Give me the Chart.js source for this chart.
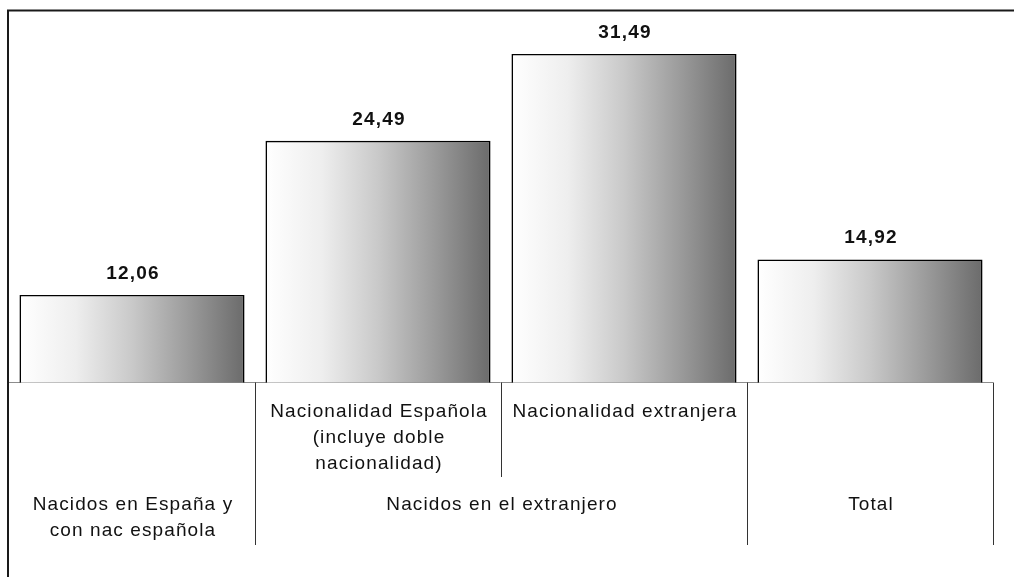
<!DOCTYPE html>
<html lang="es">
<head>
<meta charset="UTF-8">
<title>Nacidos</title>
<style>
  html, body { margin: 0; padding: 0; background: #fff; }
  #wrap { width: 1014px; height: 577px; position: relative; }
</style>
</head>
<body>
<div id="wrap"><canvas id="myChart"></canvas></div>

<script src="https://cdn.jsdelivr.net/npm/chart.js@4.4.0/dist/chart.umd.min.js"></script>
<script>
// data
const categories = ['Nacidos en España y con nac española', 'Nacionalidad Española', 'Nacionalidad extranjera', 'Total'];
const values = [12.06, 24.49, 31.49, 14.92];
const valueLabels = ['12,06', '24,49', '31,49', '14,92'];
// first label row (only for the two "extranjero" bars)
const subLabels = [[], ['Nacionalidad Española', '(incluye doble', 'nacionalidad)'], ['Nacionalidad extranjera'], []];
// second label row, groups of bars
const groupNames = [['Nacidos en España y', 'con nac española'], ['Nacidos en el extranjero'], ['Total']];
const groupStart = [0, 1, 3];
const groupEnd = [0, 2, 3];

const BAR_PCT = 0.915;
const FONT = '"Liberation Sans", Arial, sans-serif';

function barGradient(context) {
  const chart = context.chart;
  const xs = chart.scales.x;
  if (!xs || !chart.chartArea) return '#bbbbbb';
  const step = xs.width / categories.length;
  const cx = xs.getPixelForValue(context.dataIndex);
  const w = step * BAR_PCT;
  const g = chart.ctx.createLinearGradient(cx - w / 2, 0, cx + w / 2, 0);
  g.addColorStop(0, '#ffffff');
  g.addColorStop(0.25, '#eeeeee');
  g.addColorStop(0.5, '#c9c9c9');
  g.addColorStop(0.75, '#9b9b9b');
  g.addColorStop(1, '#6b6b6b');
  return g;
}

const tablePlugin = {
  id: 'tableAxis',
  beforeDatasetsDraw(chart) {
    const ctx = chart.ctx;
    const area = chart.chartArea;
    const xs = chart.scales.x;
    const base = area.bottom;
    const step = xs.width / categories.length;
    ctx.save();
    ctx.strokeStyle = '#8c8c8c';
    ctx.lineWidth = 1;
    ctx.beginPath();
    ctx.moveTo(area.left - 1, base);
    ctx.lineTo(xs.getPixelForValue(categories.length - 1) + step / 2, base);
    ctx.stroke();
    ctx.restore();
  },
  afterDraw(chart) {
    const ctx = chart.ctx;
    const area = chart.chartArea;
    const xs = chart.scales.x;
    const base = area.bottom;
    const step = xs.width / categories.length;
    ctx.save();

    // frame (left + top)
    ctx.strokeStyle = '#1a1a1a';
    ctx.lineWidth = 2;
    ctx.beginPath();
    ctx.moveTo(area.left - 1, chart.height);
    ctx.lineTo(area.left - 1, area.top);
    ctx.lineTo(chart.width, area.top);
    ctx.stroke();

    // dividers under the baseline
    ctx.lineWidth = 1;
    ctx.strokeStyle = '#333333';
    for (let i = 0; i < categories.length; i++) {
      const x = Math.round(xs.getPixelForValue(i) + step / 2) + 0.5;
      // inside a group the divider only runs through the first label row
      const inGroup = groupStart.some((s, k) => i >= s && i < groupEnd[k]);
      ctx.beginPath();
      ctx.moveTo(x, base);
      ctx.lineTo(x, base + (inGroup ? 94.5 : 162.5));
      ctx.stroke();
    }

    ctx.fillStyle = '#111111';
    ctx.textAlign = 'center';
    ctx.textBaseline = 'middle';

    // values above bars
    ctx.font = 'bold 19px ' + FONT;
    ctx.letterSpacing = '1.2px';
    const meta = chart.getDatasetMeta(0);
    meta.data.forEach((bar, i) => {
      ctx.fillText(valueLabels[i], bar.x + 1, bar.y - 21.5);
    });

    // label rows
    ctx.font = '19px ' + FONT;
    ctx.letterSpacing = '1.1px';
    subLabels.forEach((lines, i) => {
      const x = xs.getPixelForValue(i);
      lines.forEach((t, j) => ctx.fillText(t, x + 1, base + 29.5 + j * 26));
    });
    groupNames.forEach((lines, k) => {
      const x = (xs.getPixelForValue(groupStart[k]) + xs.getPixelForValue(groupEnd[k])) / 2;
      lines.forEach((t, j) => ctx.fillText(t, x + 1, base + 122 + j * 26));
    });
    ctx.restore();
  }
};

const ctx = document.getElementById('myChart').getContext('2d');
const chart = new Chart(ctx, {
  type: 'bar',
  data: {
    labels: categories,
    datasets: [{
      data: values,
      backgroundColor: barGradient,
      borderColor: '#000000',
      borderWidth: 1.6,
      borderSkipped: false,
      categoryPercentage: 1,
      barPercentage: BAR_PCT
    }]
  },
  options: {
    responsive: true,
    maintainAspectRatio: false,
    animation: false,
    layout: { padding: { left: 9, right: 21, top: 10.5, bottom: 194.5 } },
    plugins: { legend: { display: false }, tooltip: { enabled: false } },
    scales: {
      x: { display: false },
      y: { display: false, min: 5, max: 35 }
    }
  },
  plugins: [tablePlugin]
});
</script>
</body>
</html>
